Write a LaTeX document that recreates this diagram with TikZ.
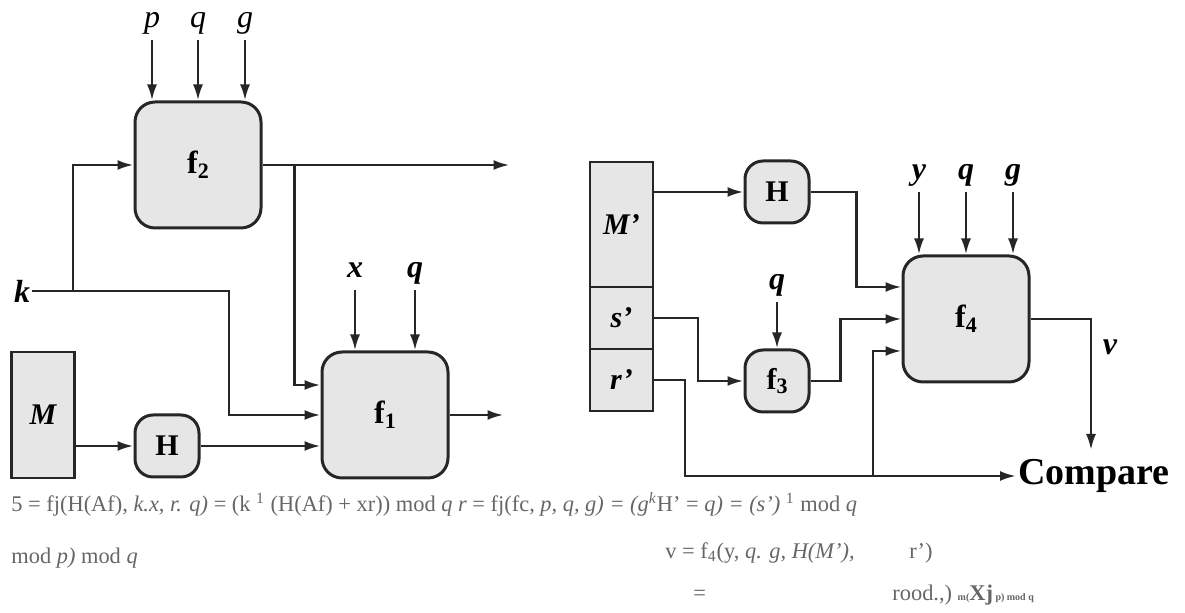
\documentclass[tikz,border=0pt]{standalone}
\usepackage{fontspec}
\setmainfont{Liberation Serif}
\usepackage{xcolor}
\usepackage{tikz}
\usetikzlibrary{positioning,arrows.meta,calc}
\definecolor{boxgray}{HTML}{E6E6E6}
\definecolor{linegray}{HTML}{262626}
\definecolor{txtgray}{HTML}{666666}
\newcommand{\fsub}[1]{f\raisebox{-0.35ex}{\fontsize{11}{12}\selectfont #1}}
\tikzset{
  fbox/.style ={draw=linegray, line width=1.5pt, rectangle, rounded corners=10pt, fill=boxgray, minimum width=63pt, minimum height=63pt, font=\fontsize{16}{18}\selectfont\bfseries},
  hbox/.style ={draw=linegray, line width=1.5pt, rectangle, rounded corners=9pt, fill=boxgray, minimum width=32pt, minimum height=31pt, inner sep=0pt, font=\fontsize{15}{18}\selectfont\bfseries},
  reg/.style  ={draw=linegray, line width=1.4pt, rectangle, fill=boxgray, minimum width=31.5pt, inner sep=0pt, outer sep=0pt, font=\fontsize{15}{18}\selectfont\bfseries\itshape},
  lbl/.style  ={inner xsep=1pt, inner ysep=4pt, text height=0.5em, text depth=0.22em, font=\fontsize{16}{18}\selectfont\bfseries\itshape},
  arr/.style  ={-{Latex[length=8pt,width=5pt]}, line width=1.3pt, draw=linegray},
  eqn/.style  ={anchor=west, inner sep=0pt, text=txtgray, font=\fontsize{11.2}{13}\selectfont},
}

\begin{document}
\begin{tikzpicture}[x=0.5pt, y=-0.5pt]
  \useasboundingbox (0,0) rectangle (1185,613);

  % signing side
  \node[fbox] (f2) at (198,165) {\fsub{2}};
  \node[fbox] (f1) at (385,415) {\fsub{1}};
  \node[reg, minimum height=63pt] (m) at (43,415) {M};
  \node[hbox] (h1) at (167,446) {H};

  \node[lbl, anchor=south, font=\fontsize{16}{18}\selectfont\itshape] (p)  at (152,40) {p};
  \node[lbl, anchor=south, font=\fontsize{16}{18}\selectfont\itshape] (q2) at (198,40) {q};
  \node[lbl, anchor=south, font=\fontsize{16}{18}\selectfont\itshape] (g2) at (245,40) {g};
  \node[lbl, anchor=south] (x)  at (355,290) {x};
  \node[lbl, anchor=south] (q1) at (415,290) {q};
  \node[font=\fontsize{16}{18}\selectfont\bfseries\itshape, inner sep=1pt] (k) at (22,291) {k};

  \coordinate (kj) at (73,291);
  \coordinate[right=16pt of f2] (b2);
  \coordinate[right=123.5pt of f2] (o2);
  \coordinate[right=27pt of f1] (o1);

  \draw[arr] (p) -- (p |- f2.north);
  \draw[arr] (q2) -- (q2 |- f2.north);
  \draw[arr] (g2) -- (g2 |- f2.north);
  \draw[arr] (x) -- (x |- f1.north);
  \draw[arr] (q1) -- (q1 |- f1.north);
  \draw[line width=1.3pt, draw=linegray] (k.east) -- (kj);
  \draw[arr] (kj) |- (f2.west);
  \draw[arr] (kj) -- ++(156,0) |- (f1.west);
  \draw[arr] (f2.east) -- (o2);
  \draw[arr] (b2) |- ([yshift=15pt]f1.west);
  \draw[arr] (m.east |- h1.west) -- (h1.west);
  \draw[arr] (h1.east) -- (h1.east -| f1.west);
  \draw[arr] (f1.east) -- (o1);

  % verifying side
  \node[reg, minimum height=62.5pt] (mp) at (621.5,224.5) {M'};
  \node[reg, minimum height=31pt, below=0pt of mp] (sp) {s'};
  \node[reg, minimum height=31pt, below=0pt of sp] (rp) {r'};
  \node[hbox] (h2) at (777,192) {H};
  \node[hbox] (f3) at (777,381) {\fsub{3}};
  \node[fbox] (f4) at (966,319) {\fsub{4}};
  \node[font=\fontsize{19}{21}\selectfont\bfseries, anchor=west, inner sep=1pt] (cmp) at (1016,476) {Compare};

  \node[lbl, anchor=south] (y)  at (919,192) {y};
  \node[lbl, anchor=south] (q4) at (966,192) {q};
  \node[lbl, anchor=south] (g4) at (1013,192) {g};
  \node[lbl, anchor=south] (q3) at (777,302) {q};
  \node[lbl] (v) at (1110,352) {v};

  \coordinate[left=71.5pt of cmp.west] (cj);
  \coordinate (vend) at (1091,450);

  \draw[arr] (y) -- (y |- f4.north);
  \draw[arr] (q4) -- (q4 |- f4.north);
  \draw[arr] (g4) -- (g4 |- f4.north);
  \draw[arr] (q3) -- (q3 |- f3.north);
  \draw[arr] (mp.east |- h2.west) -- (h2.west);
  \draw[arr] (h2.east) -- ++(46,0) |- ([yshift=16pt]f4.west);
  \draw[arr] (sp.east) -- ++(45,0) |- (f3.west);
  \draw[arr] (f3.east) -- ++(30,0) |- (f4.west);
  \draw[arr] (rp.east) -- ++(32,0) |- (cmp.west);
  \draw[arr] (cj) |- ([yshift=-16pt]f4.west);
  \draw[arr] (f4.east) -| (vend);

  % equations
  \node[eqn] (eq1) at (11,504) {5 = fj(H(Af), \textit{k.x, r. q)} = (k \textsuperscript{1} (H(Af) + xr)) mod \textit{q r} = fj(fc, \textit{p, q, g) = (g\textsuperscript{k}}H’ = \textit{q) = (s')} \textsuperscript{1} mod \textit{q}};
  \node[eqn] (eq2) at (11,558) {mod \textit{p)} mod \textit{q}};
  \node[eqn] (eq3) at (665,553) {v = f\textsubscript{4}(y, \textit{q. g, H(M'),}};
  \node[eqn] (eq4) at (909,553) {r')};
  \node[eqn] (eq5) at (693,595) {=};
  \node[eqn] (eq6) at (892,595) {rood.,) {\tiny\bfseries m(}{\bfseries Xj}{\tiny\bfseries\ p) mod q}};
\end{tikzpicture}
\end{document}
